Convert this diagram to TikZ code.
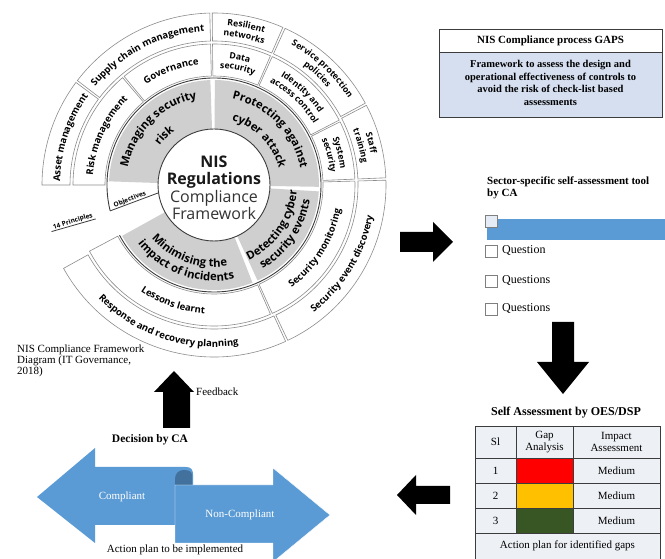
\documentclass[tikz,border=0pt]{standalone}
\usepackage{fontspec}
\setmainfont{Liberation Serif}
\newfontfamily\wf{Open Sans}
\usetikzlibrary{calc,decorations.text}
\definecolor{ringgray}{HTML}{8C8C8C}
\definecolor{sectgray}{HTML}{CFCFCF}
\definecolor{darkline}{HTML}{3C3C3C}
\definecolor{gapblue}{HTML}{D5DFF0}
\definecolor{barblue}{HTML}{5B9BD5}
\definecolor{folddark}{HTML}{41719C}
\definecolor{cellgray}{HTML}{EDF0F5}
\definecolor{amber}{HTML}{FFC000}
\definecolor{dkgreen}{HTML}{375623}
\definecolor{boxgray}{HTML}{7F7F7F}
\newcommand{\ringf}{\wf\bfseries\fontsize{9.5}{10}\selectfont}
\newcommand{\ringfs}{\wf\bfseries\fontsize{8.7}{10}\selectfont}
\newcommand{\grayf}{\wf\bfseries\fontsize{11.3}{12}\selectfont}
% annular sector: style, r1, r2, a1, a2
\newcommand{\wsect}[5]{\path[#1] ($(C)+(#4:#2)$) arc[start angle=#4,end angle=#5,radius=#2] -- ($(C)+(#5:#3)$) arc[start angle=#5,end angle=#4,radius=#3] -- cycle;}
% text along arc: radius, start, end, font, text
\newcommand{\wtext}[5]{\path[decorate,decoration={text along path,text align=center,text={|#4|#5}}] ($(C)+(#2:#1)$) arc[start angle=#2,end angle=#3,radius=#1];}
\begin{document}
\begin{tikzpicture}[x=1pt,y=1pt,
  seg/.style={fill=white,draw=ringgray,line width=0.6pt},
  gseg/.style={fill=sectgray},
  blk/.style={fill=black},
  tline/.style={draw=darkline,line width=0.7pt},
  cbox/.style={draw=boxgray,fill=white,line width=0.6pt,minimum size=12pt,inner sep=0pt},
  txt/.style={font=\fontsize{11}{12}\selectfont,inner sep=0pt},
  btxt/.style={font=\bfseries\fontsize{11}{12}\selectfont,inner sep=0pt},
  qtxt/.style={font=\fontsize{12}{13}\selectfont,inner sep=0pt,anchor=west},
  ribbon/.style={fill=barblue}]
\useasboundingbox (0,0) rectangle (665,559);
\fill[white] (0,0) rectangle (665,559);
\clip (0,0) rectangle (665,559);

% ================= WHEEL =================
\coordinate (C) at (214,374);
% outer ring
\wsect{seg}{144}{172}{180}{143.4}
\wsect{seg}{144}{172}{142.6}{91.4}
\wsect{seg}{144}{172}{90.6}{66.4}
\wsect{seg}{144}{172}{65.6}{28.4}
\wsect{seg}{144}{172}{27.6}{2.4}
\wsect{seg}{144}{172}{1.6}{-64.6}
\wsect{seg}{144}{172}{-65.4}{-151}
% middle ring
\wsect{seg}{109}{141}{180}{130.4}
\wsect{seg}{109}{141}{129.6}{91.4}
\wsect{seg}{109}{141}{90.6}{66.4}
\wsect{seg}{109}{141}{65.6}{27.4}
\wsect{seg}{109}{141}{26.6}{2.4}
\wsect{seg}{109}{141}{1.6}{-65.6}
\wsect{seg}{109}{141}{-66.4}{-152}
% gray objectives ring
\wsect{gseg}{56}{105}{178}{92}
\wsect{gseg}{56}{105}{89.5}{-1}
\wsect{gseg}{56}{105}{-3.5}{-65.5}
\wsect{gseg}{56}{105}{-68.5}{-151}
% dark lines
\draw[darkline,line width=0.9pt] ($(C)+(194:107)$) coordinate (arcA) arc[start angle=194,end angle=-152,radius=107];
\draw[darkline,line width=0.9pt,fill=white] (C) circle[radius=56];
\coordinate (objIn) at ($(C)+(188:56)$);
\draw[darkline,line width=0.8pt] (arcA) -- (objIn);
\coordinate (prA) at ($(C)+(196:123)$);
\coordinate (prB) at ($(C)+(196:169)$);
\draw[darkline,line width=0.8pt] (prA) -- (prB);
\node[font=\wf\bfseries\fontsize{6.5}{7}\selectfont,rotate=21,inner sep=0pt] (objlbl) at (130,359.5) {Objectives};
\node[font=\wf\bfseries\fontsize{6.5}{7}\selectfont,rotate=17,inner sep=0pt] (prlbl) at (73,337.5) {14 Principles};

% center text
\node[align=center,font=\wf\bfseries\fontsize{16}{17.5}\selectfont,text=black!90,inner sep=0pt] (ctr) at ($(C)+(0,-3)$)
  {NIS\\Regulations\\{\mdseries\color{black!80}Compliance}\\{\mdseries\color{black!80}Framework}};

% outer ring labels
\wtext{154}{190}{133.4}{\ringf}{Asset management}
\wtext{154}{145}{89}{\ringf}{Supply chain management}
\wtext{160}{98}{59}{\ringfs}{Resilient}
\wtext{149.5}{98}{59}{\ringfs}{networks}
\wtext{160}{72}{22}{\ringfs}{Service protection}
\wtext{149.5}{72}{22}{\ringfs}{policies}
\wtext{160}{35}{-5}{\ringfs}{Staff}
\wtext{149.5}{35}{-5}{\ringfs}{training}
\wtext{162}{-74}{11}{\ringf}{Security event discovery}
\wtext{162}{208.6}{294.6}{\ringf}{Response and recovery planning}
% middle ring labels
\wtext{121.5}{185}{125.4}{\ringf}{Risk management}
\wtext{121.5}{135}{86}{\ringf}{Governance}
\wtext{127.5}{100}{57}{\ringfs}{Data}
\wtext{117}{100}{57}{\ringfs}{security}
\wtext{127.5}{75}{18}{\ringfs}{Identity and}
\wtext{117}{75}{18}{\ringfs}{access control}
\wtext{127.5}{35}{-6}{\ringfs}{System}
\wtext{117}{35}{-6}{\ringfs}{security}
\wtext{129}{-75}{11}{\ringf}{Security monitoring}
\wtext{129}{207.6}{293.6}{\ringf}{Lessons learnt}
% gray ring labels
\wtext{88}{185}{85}{\grayf}{Managing security}
\wtext{67}{185}{85}{\grayf}{risk}
\wtext{88}{95}{-6}{\grayf}{Protecting against}
\wtext{67}{95}{-6}{\grayf}{cyber attack}
\wtext{83}{-95}{26}{\grayf}{Detecting cyber}
\wtext{97}{-95}{26}{\grayf}{security events}
\wtext{82}{190}{310}{\grayf}{Minimising the}
\wtext{96}{190}{310}{\grayf}{impact of incidents}

% caption under the wheel
\node[txt,anchor=north west,align=left,font=\fontsize{11}{11}\selectfont] (cap) at (17,214)
  {NIS Compliance Framework\\Diagram (IT Governance,\\2018)};

% ================= GAPS BOX =================
\draw[fill=white,draw=darkline,line width=0.8pt] (439,507) rectangle (662,530);
\draw[fill=gapblue,draw=darkline,line width=0.8pt] (439,442) rectangle (662,507);
\node[btxt] (gapsh) at (550.5,518.5) {NIS Compliance process GAPS};
\node[align=center,font=\bfseries\fontsize{10.5}{12.5}\selectfont,inner sep=0pt] (gapsb) at (550.5,476)
  {Framework to assess the design and\\operational effectiveness of controls to\\avoid the risk of check-list based\\assessments};

% right arrow
\path[blk] (400,307) -- (433,307) -- (433,297) -- (453,317) -- (433,337) -- (433,327) -- (400,327) -- cycle;

% ================= SECTOR TOOL =================
\node[btxt,anchor=north west,align=left] (sect) at (487,382) {Sector-specific self-assessment tool\\by CA};
\fill[barblue] (487,319) rectangle (665,340);
\node[cbox,fill=gapblue!60] (cb0) at (491,337.5) {};
\node[cbox] (cb1) at (491,308) {};
\node[qtxt] (q1) at (502,308) {Question};
\node[cbox] (cb2) at (491,278) {};
\node[qtxt] (q2) at (502,278) {Questions};
\node[cbox] (cb3) at (491,250) {};
\node[qtxt] (q3) at (502,250) {Questions};

% down arrow
\path[blk] (552,237) -- (574,237) -- (574,197) -- (589,197) -- (563,165) -- (537,197) -- (552,197) -- cycle;

% ================= TABLE =================
\node[btxt,font=\bfseries\fontsize{12}{13}\selectfont] (sat) at (566,146) {Self Assessment by OES/DSP};
\fill[cellgray] (475,-5) rectangle (660,133);
\fill[red] (516,76) rectangle (573,101);
\fill[amber] (516,51) rectangle (573,76);
\fill[dkgreen] (516,26) rectangle (573,51);
\draw[tline] (475,-5) -- (475,133) -- (660,133) -- (660,-5);
\draw[tline] (475,101) -- (660,101) (475,76) -- (660,76) (475,51) -- (660,51) (475,26) -- (660,26);
\draw[tline] (516,26) -- (516,133) (573,26) -- (573,133);
\node[txt] (hsl) at (495.5,117) {Sl};
\node[txt,align=center] (hgap) at (544.5,117) {Gap\\Analysis};
\node[txt,align=center] (himp) at (616.5,117) {Impact\\Assessment};
\node[txt] (n1) at (495.5,88.5) {1};
\node[txt] (n2) at (495.5,63.5) {2};
\node[txt] (n3) at (495.5,38.5) {3};
\node[txt] (m1) at (616.5,88.5) {Medium};
\node[txt] (m2) at (616.5,63.5) {Medium};
\node[txt] (m3) at (616.5,38.5) {Medium};
\node[txt] (apg) at (567.5,13) {Action plan for identified gaps};

% left arrow
\path[blk] (397,64) -- (416,84) -- (416,73) -- (450,73) -- (450,55) -- (416,55) -- (416,44) -- cycle;

% ================= FEEDBACK / DECISION =================
\path[blk] (163,131) -- (190,131) -- (190,167) -- (194,167) -- (174,188) -- (154,167) -- (163,167) -- cycle;
\node[txt,anchor=west] (fb) at (196,167) {Feedback};
\node[btxt,font=\bfseries\fontsize{11.5}{12}\selectfont] (dec) at (150,119) {Decision by CA};

% ribbon double arrow
\path[ribbon] (37,62) -- (95,111) -- (95,92) -- (186,92) .. controls (191,92) and (193,89) .. (193,85) -- (193,34) -- (95,34) -- (95,16) -- cycle;
\path[fill=folddark] (175,74) -- (175,80) .. controls (175,86) and (179,89) .. (184,89) .. controls (189,89) and (192,87) .. (192,84) -- (192,74) -- cycle;
\path[ribbon,draw=white,line width=0.4pt] (175,74) -- (273,74) -- (273,91) -- (330,44) -- (273,-3) -- (273,16) -- (175,16) -- cycle;
\node[txt,text=white] (comp) at (122,62) {Compliant};
\node[txt,text=white] (ncomp) at (240,44) {Non-Compliant};
\node[txt] (apl) at (175,9) {Action plan to be implemented};
\end{tikzpicture}
\end{document}
